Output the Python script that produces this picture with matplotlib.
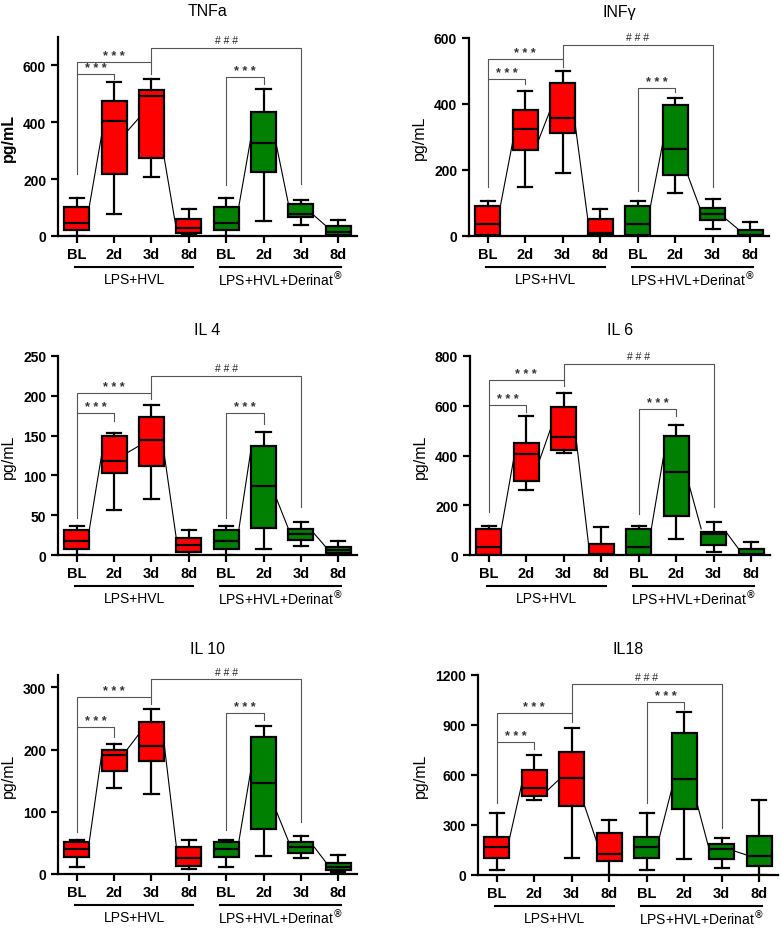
import numpy as np
import matplotlib.pyplot as plt

plt.rcParams['font.family'] = ['Liberation Sans', 'DejaVu Sans']

days = ['BL', '2d', '3d', '8d', 'BL', '2d', '3d', '8d']
group_names = ['LPS+HVL', 'LPS+HVL+Derinat$^{\\circledR}$']
box_colors = ['#ff0000'] * 4 + ['#008000'] * 4

# box stats: whisker low, q1, median, q3, whisker high  (pg/mL)
tnf_low = [0, 79, 206, 2, 0, 52, 38, 0]
tnf_q1 = [22, 217, 274, 11, 22, 224, 66, 3]
tnf_med = [47, 403, 491, 28, 47, 327, 77, 14]
tnf_q3 = [102, 476, 512, 61, 102, 435, 112, 35]
tnf_high = [135, 541, 552, 94, 135, 516, 127, 55]
tnf_link_a = [102, 366, 280, 102, 325, 74]
tnf_link_b = [353, 415, 25, 348, 113, 36]
tnf_br_top = [571, 612, 662, 561]
tnf_br_left = [217, 571, 612, 178]
tnf_br_right = [553, 571, 184, 536]

inf_low = [0, 148, 191, 0, 0, 131, 20, 0]
inf_q1 = [4, 260, 311, 2, 4, 184, 47, 2]
inf_med = [37, 324, 359, 9, 37, 264, 68, 4]
inf_q3 = [90, 382, 464, 53, 90, 396, 85, 18]
inf_high = [105, 439, 499, 83, 105, 418, 111, 43]
inf_link_a = [90, 285, 335, 88, 184, 53]
inf_link_b = [285, 381, 53, 280, 83, 22]
inf_br_top = [477, 537, 578, 450]
inf_br_left = [148, 477, 537, 135]
inf_br_right = [462, 512, 148, 436]

il4_low = [0, 56, 70, 0, 0, 8, 11, 0]
il4_q1 = [7, 103, 112, 4, 7, 34, 19, 3]
il4_med = [17, 118, 145, 12, 17, 87, 26, 6]
il4_q3 = [31, 150, 173, 21, 31, 137, 33, 10]
il4_high = [36, 153, 188, 32, 36, 155, 42, 18]
il4_link_a = [31, 128, 129, 31, 72, 28]
il4_link_b = [125, 137, 21, 133, 33, 10]
il4_br_top = [179, 203, 225, 179]
il4_br_left = [47, 179, 203, 47]
il4_br_right = [168, 196, 60, 164]

il6_low = [0, 263, 411, 0, 0, 64, 11, 0]
il6_q1 = [0, 299, 424, 0, 0, 158, 42, 0]
il6_med = [31, 408, 474, 3, 31, 334, 83, 3]
il6_q3 = [105, 451, 595, 44, 105, 478, 91, 24]
il6_high = [118, 558, 650, 111, 118, 521, 134, 51]
il6_link_a = [105, 373, 460, 105, 286, 91]
il6_link_b = [386, 514, 38, 400, 105, 24]
il6_br_top = [604, 705, 769, 588]
il6_br_left = [172, 604, 705, 165]
il6_br_right = [574, 679, 192, 558]

il10_low = [12, 138, 128, 8, 12, 29, 25, 3]
il10_q1 = [28, 165, 182, 13, 28, 72, 34, 6]
il10_med = [41, 192, 206, 26, 41, 147, 44, 12]
il10_q3 = [51, 199, 245, 44, 51, 220, 52, 18]
il10_high = [55, 209, 266, 55, 55, 238, 61, 31]
il10_link_a = [51, 199, 212, 51, 102, 45]
il10_link_b = [191, 225, 45, 169, 53, 19]
il10_br_top = [236, 284, 313, 259]
il10_br_left = [67, 236, 284, 71]
il10_br_right = [220, 274, 83, 247]

il18_low = [30, 452, 102, 0, 30, 94, 44, 0]
il18_q1 = [100, 474, 414, 82, 100, 394, 94, 54]
il18_med = [166, 522, 580, 128, 166, 578, 158, 114]
il18_q3 = [228, 630, 738, 250, 228, 850, 184, 234]
il18_high = [374, 722, 880, 332, 374, 980, 222, 448]
il18_link_a = [214, 504, 420, 224, 434, 144]
il18_link_b = [544, 574, 200, 514, 154, 120]
il18_br_top = [800, 974, 1144, 1040]
il18_br_left = [434, 800, 974, 434]
il18_br_right = [758, 918, 284, 998]

link_pairs = [(0, 1), (1, 2), (2, 3), (4, 5), (5, 6), (6, 7)]
br_pairs = [(0, 1), (0, 2), (2, 6), (4, 5)]
br_text = ['* * *', '* * *', '# # #', '* * *']

W, H = 782, 929
fig = plt.figure(figsize=(W / 100, H / 100), dpi=100)


def make_ax(left, right, top, bottom):
    return fig.add_axes([left / W, 1 - bottom / H, (right - left) / W, (bottom - top) / H])


def draw_panel(ax, title, low, q1, med, q3, high, link_a, link_b,
               br_top, br_left, br_right, ymax, yticks, bold_label=False):
    hw = 0.335
    stats = [dict(whislo=low[i], q1=q1[i], med=med[i], q3=q3[i], whishi=high[i])
             for i in range(8)]
    # thin connecting lines between neighbouring boxes
    for k, (i, j) in enumerate(link_pairs):
        ax.plot([i + hw, j - hw], [link_a[k], link_b[k]], color='black', lw=0.8, zorder=1)
    bp = ax.bxp(stats, positions=np.arange(8), widths=2 * hw, capwidths=0.38,
                showfliers=False, patch_artist=True,
                boxprops=dict(edgecolor='black', linewidth=1.6),
                medianprops=dict(color='black', linewidth=1.6),
                whiskerprops=dict(color='black', linewidth=1.6),
                capprops=dict(color='black', linewidth=1.6))
    for box, c in zip(bp['boxes'], box_colors):
        box.set_facecolor(c)
        box.set_zorder(2)

    # significance brackets
    for k, (i, j) in enumerate(br_pairs):
        ax.plot([i, i, j, j], [br_left[k], br_top[k], br_top[k], br_right[k]],
                color='#555555', lw=0.8, zorder=1, clip_on=False)
        star = br_text[k].startswith('*')
        ax.annotate(br_text[k], ((i + j) / 2, br_top[k]), xytext=(0, 0 if star else 2),
                    textcoords='offset points', ha='center', va='bottom',
                    fontsize=9 if star else 7.5, color='#333333' if star else '#222222',
                    fontweight='bold' if star else 'normal',
                    annotation_clip=False)

    ax.set_xlim(-0.5, 7.5)
    ax.set_ylim(0, ymax)
    ax.set_yticks(yticks)
    ax.set_xticks(np.arange(8))
    ax.set_xticklabels(days, fontweight='bold', fontsize=10.5)
    for lab in ax.get_yticklabels():
        lab.set_fontweight('bold')
        lab.set_fontsize(10)
    ax.tick_params(axis='both', direction='out', length=5, width=1.6)
    ax.tick_params(axis='x', pad=3)
    for s in ['top', 'right']:
        ax.spines[s].set_visible(False)
    for s in ['left', 'bottom']:
        ax.spines[s].set_linewidth(1.6)
    ax.set_title(title, fontsize=11.5, pad=16)
    ax.set_ylabel('pg/mL', fontsize=11.5, fontweight='bold' if bold_label else 'normal',
                  labelpad=5)

    # group underlines and names
    tr = ax.get_xaxis_transform()
    yl = -31 / 199
    ax.plot([-0.05, 3.12], [yl, yl], color='black', lw=1.5, transform=tr, clip_on=False)
    ax.plot([3.84, 7.07], [yl, yl], color='black', lw=1.5, transform=tr, clip_on=False)
    ax.text(1.55, -43 / 199, group_names[0], transform=tr, ha='center', va='center', fontsize=10)
    ax.text(5.45, -43 / 199, group_names[1], transform=tr, ha='center', va='center', fontsize=10)


ax1 = make_ax(58, 357, 38, 237)
draw_panel(ax1, 'TNFa', tnf_low, tnf_q1, tnf_med, tnf_q3, tnf_high, tnf_link_a, tnf_link_b,
           tnf_br_top, tnf_br_left, tnf_br_right, 700, [0, 200, 400, 600], bold_label=True)

ax2 = make_ax(469, 769, 39, 237)
draw_panel(ax2, 'INFγ', inf_low, inf_q1, inf_med, inf_q3, inf_high, inf_link_a, inf_link_b,
           inf_br_top, inf_br_left, inf_br_right, 600, [0, 200, 400, 600])

ax3 = make_ax(58, 357, 357, 556)
draw_panel(ax3, 'IL 4', il4_low, il4_q1, il4_med, il4_q3, il4_high, il4_link_a, il4_link_b,
           il4_br_top, il4_br_left, il4_br_right, 250, [0, 50, 100, 150, 200, 250])

ax4 = make_ax(470, 770, 357, 556)
draw_panel(ax4, 'IL 6', il6_low, il6_q1, il6_med, il6_q3, il6_high, il6_link_a, il6_link_b,
           il6_br_top, il6_br_left, il6_br_right, 800, [0, 200, 400, 600, 800])

ax5 = make_ax(58, 357, 676, 875)
draw_panel(ax5, 'IL 10', il10_low, il10_q1, il10_med, il10_q3, il10_high, il10_link_a, il10_link_b,
           il10_br_top, il10_br_left, il10_br_right, 320, [0, 100, 200, 300])

ax6 = make_ax(478, 778, 676, 876)
draw_panel(ax6, 'IL18', il18_low, il18_q1, il18_med, il18_q3, il18_high, il18_link_a, il18_link_b,
           il18_br_top, il18_br_left, il18_br_right, 1200, [0, 300, 600, 900, 1200])

fig.savefig('out.png', dpi=100, facecolor='white')
